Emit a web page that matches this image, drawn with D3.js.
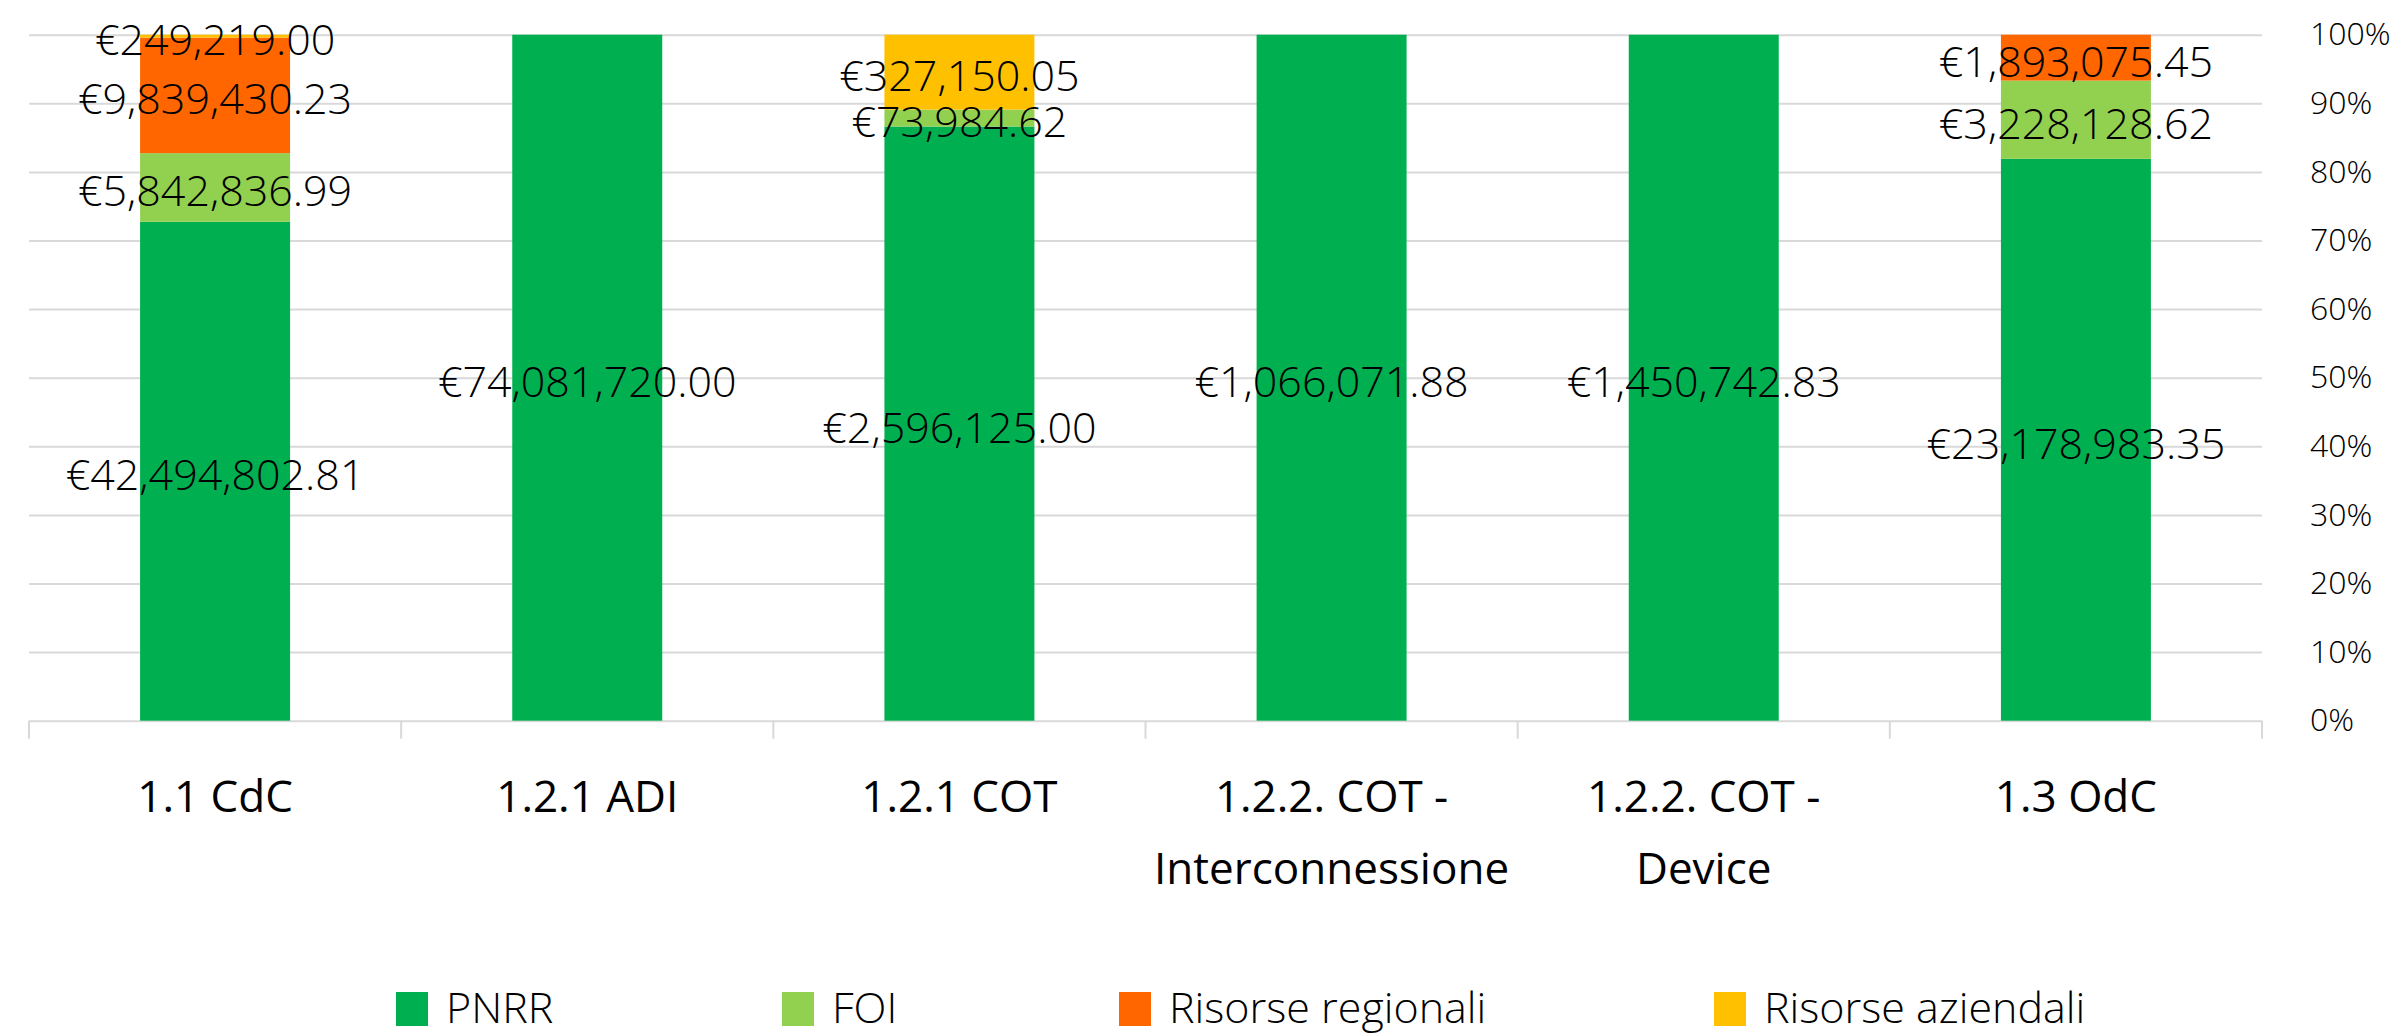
<!DOCTYPE html>
<html>
<head>
<meta charset="utf-8">
<script src="https://cdn.jsdelivr.net/npm/d3@7"></script>
<style>
  body { margin: 0; background: #ffffff; }
  svg text { font-family: "Open Sans", "Noto Sans", sans-serif; fill: #000000; }
</style>
</head>
<body>
<svg id="chart" width="2403" height="1035"></svg>
<script>
// Funding sources per PNRR line, in euro.
var categories = ['1.1 CdC', '1.2.1 ADI', '1.2.1 COT', '1.2.2. COT - Interconnessione', '1.2.2. COT - Device', '1.3 OdC'];
var seriesNames = ['PNRR', 'FOI', 'Risorse regionali', 'Risorse aziendali'];
var pnrr = [42494802.81, 74081720.00, 2596125.00, 1066071.88, 1450742.83, 23178983.35];
var foi = [5842836.99, 0, 73984.62, 0, 0, 3228128.62];
var regionali = [9839430.23, 0, 0, 0, 0, 1893075.45];
var aziendali = [249219.00, 0, 327150.05, 0, 0, 0];
var colors = ['#00b050', '#92d050', '#ff6600', '#ffc000'];
var yTicks = [0, 0.1, 0.2, 0.3, 0.4, 0.5, 0.6, 0.7, 0.8, 0.9, 1];

function wrapLabel(label) {
  /* Split long labels after the dash, like the original chart does. */
  var idx = label.indexOf(' - ');
  if (idx < 0) return [label];
  return [label.slice(0, idx + 2), label.slice(idx + 3)];
}

function render() {
  'use strict';
  var svg = d3.select('#chart');
  var left = 29, right = 2262, top = 34.7, bottom = 720.7;

  var rows = categories.map(function(c, i) {
    return {
      cat: c,
      'PNRR': pnrr[i],
      'FOI': foi[i],
      'Risorse regionali': regionali[i],
      'Risorse aziendali': aziendali[i]
    };
  });

  var stack = d3.stack().keys(seriesNames).offset(d3.stackOffsetExpand);
  var layers = stack(rows);

  var x = d3.scaleBand().domain(categories).range([left, right])
    .paddingInner(0.597).paddingOuter(0.2985);
  var y = d3.scaleLinear().domain([0, 1]).range([bottom, top]);
  var color = d3.scaleOrdinal().domain(seriesNames).range(colors);
  var euro = function(v) { return '€' + d3.format(',.2f')(v); };

  // Gridlines
  svg.append('g')
    .attr('transform', 'translate(' + left + ',0)')
    .call(d3.axisLeft(y).tickValues(yTicks).tickSize(-(right - left)).tickFormat(''))
    .call(function(g) { g.select('.domain').remove(); })
    .selectAll('line')
      .attr('stroke', '#d9d9d9')
      .attr('stroke-width', 2);

  // Category separators under the axis
  var bounds = d3.range(categories.length + 1).map(function(i) { return left + i * x.step(); });
  svg.append('g').selectAll('line')
    .data(bounds)
    .enter()
    .append('line')
      .attr('x1', function(d) { return d; })
      .attr('x2', function(d) { return d; })
      .attr('y1', bottom)
      .attr('y2', bottom + 18)
      .attr('stroke', '#d9d9d9')
      .attr('stroke-width', 2);

  // Bars
  svg.append('g').selectAll('g')
    .data(layers)
    .enter()
    .append('g')
      .attr('fill', function(d) { return color(d.key); })
    .selectAll('rect')
    .data(function(d) { return d; })
    .enter()
    .append('rect')
      .attr('x', function(d) { return x(d.data.cat); })
      .attr('y', function(d) { return y(d[1]); })
      .attr('width', x.bandwidth())
      .attr('height', function(d) { return y(d[0]) - y(d[1]); });

  // Value labels, centred on each segment
  var labels = [];
  layers.forEach(function(layer) {
    layer.forEach(function(d) {
      var v = d.data[layer.key];
      if (v > 0) labels.push({ cat: d.data.cat, v: v, mid: (d[0] + d[1]) / 2 });
    });
  });
  svg.append('g').selectAll('text')
    .data(labels)
    .enter()
    .append('text')
      .attr('x', function(d) { return x(d.cat) + x.bandwidth() / 2; })
      .attr('y', function(d) { return y(d.mid) + 2.5; })
      .attr('text-anchor', 'middle')
      .attr('dominant-baseline', 'central')
      .attr('font-size', 43)
      .attr('font-weight', 300)
      .text(function(d) { return euro(d.v); });

  // Right percentage axis
  svg.append('g')
    .attr('transform', 'translate(' + right + ',0)')
    .call(d3.axisRight(y).tickValues(yTicks).tickSize(0).tickPadding(48).tickFormat(d3.format('.0%')))
    .call(function(g) { g.select('.domain').remove(); })
    .selectAll('text')
      .attr('font-size', 32)
      .attr('font-weight', 300)
      .attr('font-family', '"Open Sans", sans-serif')
      .attr('fill', '#000');

  // Category labels
  var catG = svg.append('g').selectAll('text')
    .data(categories)
    .enter()
    .append('text')
      .attr('text-anchor', 'middle')
      .attr('font-size', 44)
      .attr('x', function(d) { return x(d) + x.bandwidth() / 2; })
      .attr('y', 812);
  catG.selectAll('tspan')
    .data(function(d) { return wrapLabel(d); })
    .enter()
    .append('tspan')
      .attr('x', function() { return d3.select(this.parentNode).attr('x'); })
      .attr('dy', function(d, i) { return i === 0 ? 0 : 72; })
      .text(function(d) { return d; });

  // Legend
  var legendX = [396, 782, 1119, 1714];
  var legend = svg.append('g').selectAll('g')
    .data(seriesNames)
    .enter()
    .append('g')
      .attr('transform', function(d, i) { return 'translate(' + legendX[i] + ',992)'; });
  legend.append('rect')
    .attr('width', 32)
    .attr('height', 34)
    .attr('fill', function(d) { return color(d); });
  legend.append('text')
    .attr('x', 50)
    .attr('y', 31)
    .attr('font-size', 43)
    .attr('font-weight', 300)
    .text(function(d) { return d; });
}

render();
</script>
</body>
</html>
